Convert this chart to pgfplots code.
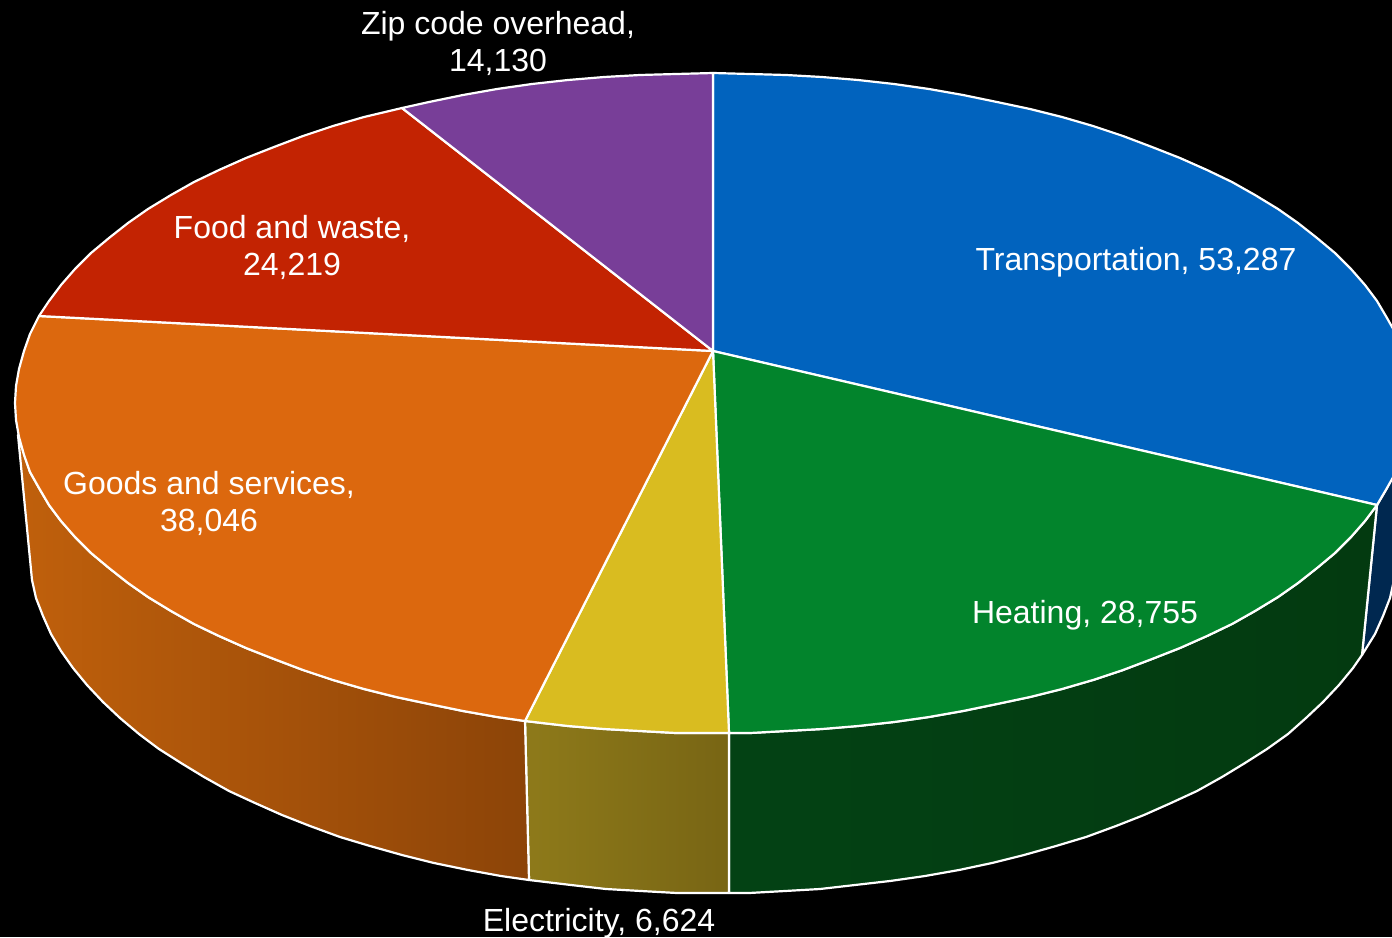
\documentclass[border=0pt]{standalone}
\usepackage{fontspec}
\setmainfont{Liberation Sans}
\usepackage{pgfplots}
\pgfplotsset{compat=1.18}

% slice colours
\definecolor{cblue}{RGB}{1,99,190}
\definecolor{cgreen}{RGB}{2,132,44}
\definecolor{cyellow}{RGB}{217,188,32}
\definecolor{corange}{RGB}{220,104,14}
\definecolor{cred}{RGB}{195,35,2}
\definecolor{cpurple}{RGB}{120,62,152}
\definecolor{cnavy}{RGB}{0,40,80}
% side walls, light and dark end
\definecolor{gl}{RGB}{3,66,20}
\definecolor{gm}{RGB}{2,53,14}
\definecolor{gd}{RGB}{3,58,16}
\definecolor{yl}{RGB}{142,122,26}
\definecolor{yd}{RGB}{120,101,20}
\definecolor{ol}{RGB}{192,96,12}
\definecolor{od}{RGB}{140,68,8}

\tikzset{lab/.style={text=white, align=center, font=\fontsize{16}{18.5}\selectfont}}

\begin{document}
\begin{tikzpicture}
\begin{axis}[
    scale only axis,
    width=696pt,
    height=468.5pt,
    xmin=0, xmax=1392,
    ymin=0, ymax=937,
    y dir=reverse,
    hide axis,
    every axis plot/.append style={draw=white, line width=1.1pt, line join=round},
]
% background
\addplot[fill=black, draw=none] coordinates {(0,0) (1392,0) (1392,937) (0,937)} --cycle;

% side walls
\addplot[fill=cnavy] coordinates {(1377,505) (1387,488) (1402,455) (1410,420)
    (1397,562) (1394,580) (1390,598) (1383,616) (1375,634) (1362,655)} --cycle;
\addplot[left color=gl, middle color=gm, right color=gd] coordinates {
    (1377,505) (1365,521) (1351,537) (1335,553) (1317,568) (1298,583) (1278,597) (1255,611)
    (1232,624) (1207,636) (1180,648) (1152,659) (1123,670) (1093,680) (1062,689) (1030,697)
    (997,704) (963,711) (929,717) (894,722) (858,726) (822,729) (786,731) (750,733) (729,733)
    (729,893) (749,893) (785,891) (820,889) (855,885) (890,881) (925,876) (959,870) (992,863)
    (1024,855) (1056,846) (1086,837) (1116,826) (1144,815) (1171,803) (1197,791) (1222,777)
    (1245,763) (1267,749) (1288,734) (1306,718) (1323,702) (1339,685) (1353,668) (1362,655)} --cycle;
\addplot[left color=yl, right color=yd] coordinates {
    (729,733) (676,733) (640,731) (604,729) (568,726) (525,721)
    (529,880) (571,885) (606,889) (641,891) (677,893) (729,893)} --cycle;
\addplot[left color=ol, right color=od] coordinates {
    (525,721) (497,717) (463,711) (429,704) (396,697) (364,689) (333,680) (303,670) (274,659)
    (246,648) (219,636) (194,624) (171,611) (148,597) (128,583) (109,568) (91,553) (75,537)
    (61,521) (49,505) (39,488) (30,472) (18,435)
    (32,580) (36,598) (43,616) (51,634) (61,651) (73,668) (87,685) (103,702) (120,718) (139,734)
    (159,749) (181,763) (204,777) (229,791) (255,803) (282,815) (310,826) (340,837) (370,846)
    (402,855) (434,863) (468,870) (501,876) (529,880)} --cycle;

% top faces
\addplot[fill=cblue] coordinates {
    (713,351) (713,73) (750,74) (786,75) (822,77) (858,80) (894,84) (929,89) (963,95) (997,102)
    (1030,109) (1062,117) (1093,126) (1123,136) (1152,147) (1180,158) (1207,170) (1232,182)
    (1255,195) (1278,209) (1298,223) (1317,238) (1335,253) (1351,269) (1365,285) (1377,301)
    (1387,318) (1396,334) (1402,351) (1407,369) (1410,386) (1411,403) (1410,420) (1407,437)
    (1402,455) (1396,472) (1387,488) (1377,505)} --cycle;
\addplot[fill=cgreen] coordinates {
    (713,351) (1377,505) (1365,521) (1351,537) (1335,553) (1317,568) (1298,583) (1278,597)
    (1255,611) (1232,624) (1207,636) (1180,648) (1152,659) (1123,670) (1093,680) (1062,689)
    (1030,697) (997,704) (963,711) (929,717) (894,722) (858,726) (822,729) (786,731) (750,733)
    (729,733)} --cycle;
\addplot[fill=cyellow] coordinates {
    (713,351) (729,733) (676,733) (640,731) (604,729) (568,726) (525,721)} --cycle;
\addplot[fill=corange] coordinates {
    (713,351) (525,721) (497,717) (463,711) (429,704) (396,697) (364,689) (333,680) (303,670)
    (274,659) (246,648) (219,636) (194,624) (171,611) (148,597) (128,583) (109,568) (91,553)
    (75,537) (61,521) (49,505) (39,488) (30,472) (24,455) (19,437) (16,420) (15,403) (16,386)
    (19,369) (24,351) (30,334) (39,316)} --cycle;
\addplot[fill=cred] coordinates {
    (713,351) (39,316) (49,301) (61,285) (75,269) (91,253) (109,238) (128,223) (148,209)
    (171,195) (194,182) (219,170) (246,158) (274,147) (303,136) (333,126) (364,117) (402,108)} --cycle;
\addplot[fill=cpurple] coordinates {
    (713,351) (402,108) (429,102) (463,95) (497,89) (532,84) (568,80) (604,77) (640,75)
    (676,74) (713,73)} --cycle;

% labels
\node[lab] at (axis cs:498,43) {Zip code overhead,\\14,130};
\node[lab] at (axis cs:1136,262) {Transportation, 53,287};
\node[lab] at (axis cs:292,247) {Food and waste,\\24,219};
\node[lab] at (axis cs:209,503) {Goods and services,\\38,046};
\node[lab] at (axis cs:1085,615) {Heating, 28,755};
\node[lab] at (axis cs:599,923) {Electricity, 6,624};
\end{axis}
\end{tikzpicture}
\end{document}
